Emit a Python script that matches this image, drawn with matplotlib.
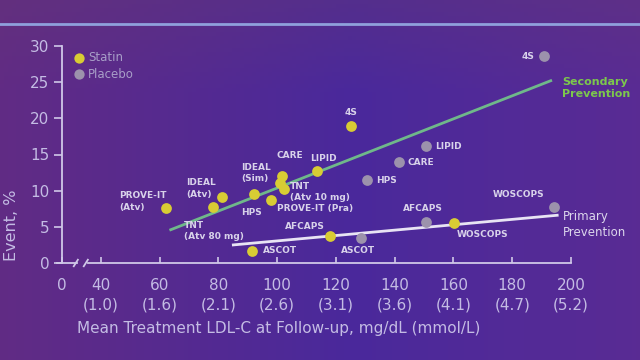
import numpy as np
import matplotlib
matplotlib.use("Agg")
import matplotlib.pyplot as plt

# data
statin_names = ["PROVE-IT (Atv)", "TNT (Atv 80 mg)", "IDEAL (Atv)", "ASCOT", "IDEAL (Sim)", "HPS",
                "CARE", "TNT (Atv 10 mg)", "PROVE-IT (Pra)", "LIPID", "4S", "AFCAPS", "WOSCOPS"]
statin_ldl = [62.1, 78.1, 81.1, 91.5, 92.1, 97.9, 101.6, 101.0, 102.3, 113.6, 125.3, 118.0, 160.1]
statin_event = [7.6, 7.7, 9.1, 1.7, 9.5, 8.7, 12.0, 11.1, 10.2, 12.7, 18.9, 3.8, 5.5]

placebo_names = ["4S", "LIPID", "CARE", "HPS", "AFCAPS", "ASCOT", "WOSCOPS"]
placebo_ldl = [190.7, 150.8, 141.4, 130.6, 150.8, 128.4, 194.1]
placebo_event = [28.6, 16.2, 13.9, 11.5, 5.6, 3.4, 7.8]

secondary_x = [63.8, 193.1]
secondary_y = [4.6, 25.2]
primary_x = [85.1, 195.3]
primary_y = [2.5, 6.6]

xticks = [40, 60, 80, 100, 120, 140, 160, 180, 200]
mmol = ["1.0", "1.6", "2.1", "2.6", "3.1", "3.6", "4.1", "4.7", "5.2"]
X0 = 26.8  # where the broken axis shows "0"

# label text, x, y, alignment
labels = [
    ("PROVE-IT\n(Atv)", 46.3, 8.5, "left"),
    ("IDEAL\n(Atv)", 69.2, 10.3, "left"),
    ("IDEAL\n(Sim)", 87.9, 12.45, "left"),
    ("CARE", 99.7, 14.8, "left"),
    ("TNT\n(Atv 80 mg)", 68.4, 4.4, "left"),
    ("HPS", 87.6, 6.95, "left"),
    ("ASCOT", 95.3, 1.7, "left"),
    ("TNT\n(Atv 10 mg)", 104.3, 9.8, "left"),
    ("PROVE-IT (Pra)", 100.0, 7.55, "left"),
    ("LIPID", 111.4, 14.5, "left"),
    ("AFCAPS", 102.7, 5.1, "left"),
    ("4S", 123.0, 20.8, "left"),
    ("4S", 187.7, 28.5, "right"),
    ("LIPID", 153.9, 16.1, "left"),
    ("CARE", 144.3, 13.9, "left"),
    ("HPS", 133.6, 11.4, "left"),
    ("WOSCOPS", 173.5, 9.5, "left"),
    ("AFCAPS", 142.9, 7.55, "left"),
    ("WOSCOPS", 161.0, 3.9, "left"),
    ("ASCOT", 121.6, 1.7, "left"),
]

fig = plt.figure(figsize=(6.4, 3.6), dpi=100)

# purple slide background
bg = fig.add_axes([0, 0, 1, 1], zorder=-10)
h, w = 90, 160
xx = np.linspace(0, 1, w)[None, :]
yy = np.linspace(0, 1, h)[:, None]
left = np.array([0.38, 0.17, 0.52])
mid = np.array([0.29, 0.16, 0.61])
right = np.array([0.35, 0.17, 0.58])
t = np.clip(xx / 0.55, 0, 1)[..., None]
u = np.clip((xx - 0.55) / 0.45, 0, 1)[..., None]
img = np.where(xx[..., None] < 0.55, left * (1 - t) + mid * t, mid * (1 - u) + right * u)
img = img * np.ones((h, 1, 1))
top = np.clip(1 - yy / 0.25, 0, 1)[..., None]
img = img * (1 - 0.35 * top) + np.array([0.40, 0.22, 0.45]) * 0.35 * top
bg.imshow(img, aspect="auto", extent=[0, 1, 0, 1], origin="upper")
bg.axhline(1 - 24 / 360, color="#8fa0dc", lw=2)
bg.set_xlim(0, 1)
bg.set_ylim(0, 1)
bg.axis("off")

ax = fig.add_axes([62 / 640, 97 / 360, 509 / 640, 217 / 360])
ax.set_facecolor("none")
ax.set_xlim(X0, 200)
ax.set_ylim(0, 30)

axis_col = "#d0c8e8"
text_col = "#c4bce4"
for s in ["top", "right", "bottom"]:
    ax.spines[s].set_visible(False)
ax.spines["left"].set_color(axis_col)
ax.spines["left"].set_linewidth(1.3)

# broken x axis
kw = dict(color=axis_col, lw=1.3, clip_on=False)
ax.plot([X0 - 1.7, 31.9], [0, 0], **kw)
ax.plot([30.8, 32.2], [-0.45, 0.45], **kw)
ax.plot([34.2, 35.6], [-0.45, 0.45], **kw)
ax.plot([35.6, 200], [0, 0], **kw)

ax.set_yticks([0, 5, 10, 15, 20, 25, 30])
ax.tick_params(axis="y", direction="out", length=6, width=1.2, color=axis_col,
               labelcolor=text_col, labelsize=11, pad=3)
ax.set_xticks([X0] + xticks)
xl = ax.set_xticklabels(["0"] + ["%d\n(%s)" % (v, m) for v, m in zip(xticks, mmol)])
for lab in xl:
    lab.set_linespacing(1.35)
ax.tick_params(axis="x", direction="in", length=4, width=1.2, color=axis_col,
               labelcolor=text_col, labelsize=11, pad=11)

ax.plot(secondary_x, secondary_y, color="#6fb88a", lw=2, zorder=2)
ax.plot(primary_x, primary_y, color="#e8e4f4", lw=2, zorder=2)

ax.scatter(placebo_ldl, placebo_event, s=60, color="#9c92ac", zorder=3, linewidths=0)
ax.scatter(statin_ldl, statin_event, s=60, color="#d8cc34", zorder=4, linewidths=0)

for txt, x, y, ha in labels:
    ax.text(x, y, txt, ha=ha, va="center", fontsize=6.5, fontweight="bold",
            color="#d8d2ea", linespacing=1.3, zorder=5)

ax.text(197.1, 24.2, "Secondary\nPrevention", ha="left", va="center", fontsize=8,
        fontweight="bold", color="#7cc84c", clip_on=False, linespacing=1.3)
ax.text(197.1, 5.3, "Primary\nPrevention", ha="left", va="center", fontsize=8.5,
        color="#dcd6ec", clip_on=False, linespacing=1.3)

# legend
ax.scatter([X0 + 5.7], [28.4], s=55, color="#d8cc34", linewidths=0, clip_on=False)
ax.scatter([X0 + 5.7], [26.1], s=55, color="#9c92ac", linewidths=0, clip_on=False)
ax.text(X0 + 8.8, 28.4, "Statin", va="center", fontsize=8.5, color="#a89ec8")
ax.text(X0 + 8.8, 26.1, "Placebo", va="center", fontsize=8.5, color="#a89ec8")

fig.text(12 / 640, 1 - 225 / 360, "Event, %", rotation=90, ha="center", va="center",
         fontsize=11.5, color=text_col)
fig.text(279 / 640, 1 - 328 / 360, "Mean Treatment LDL-C at Follow-up, mg/dL (mmol/L)",
         ha="center", va="center", fontsize=11, color=text_col)

fig.savefig("out.png", dpi=100)
